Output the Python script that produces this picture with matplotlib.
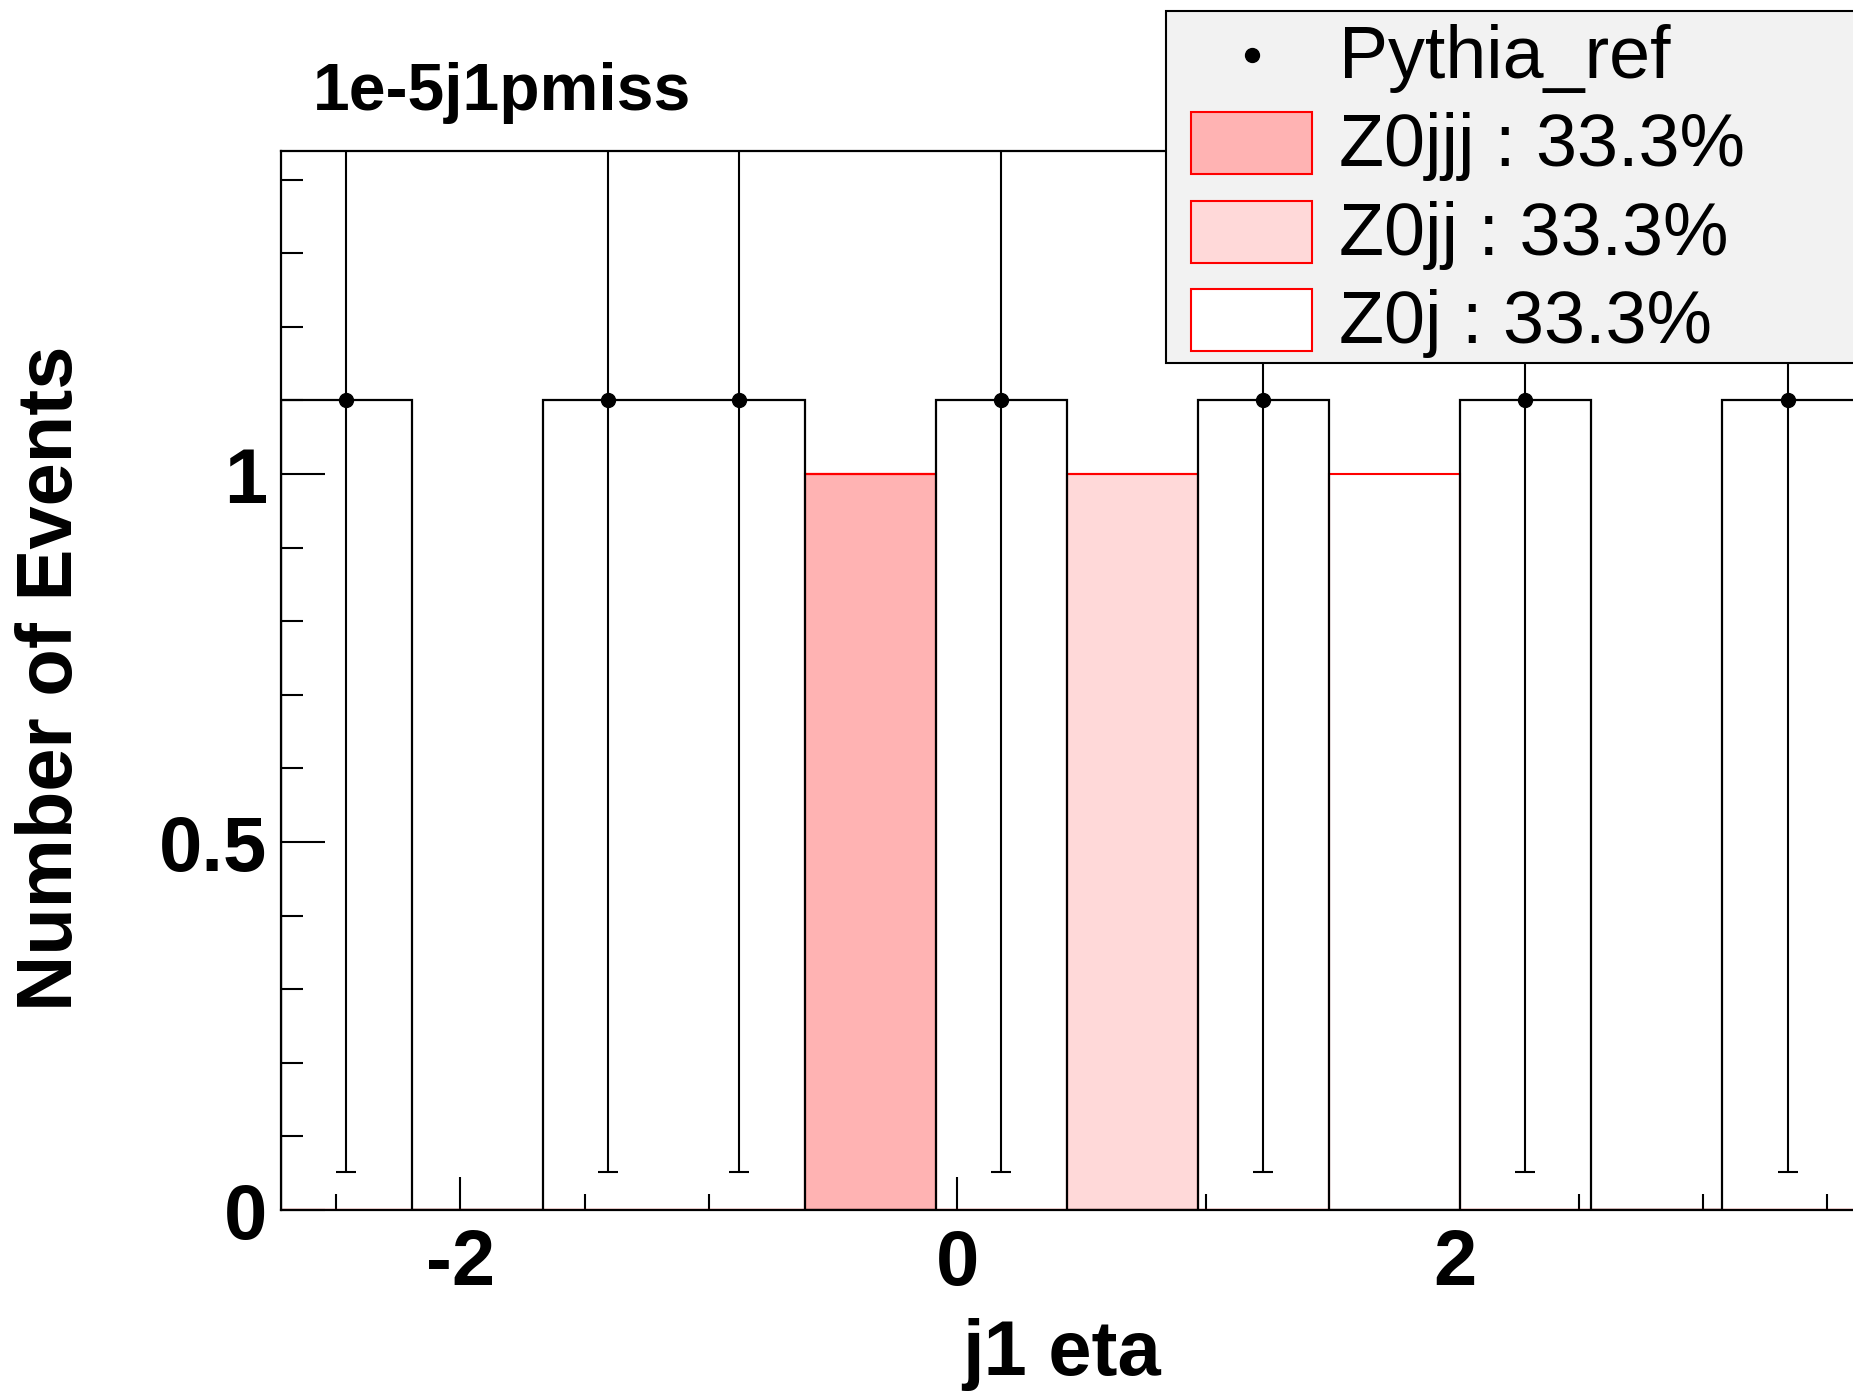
import numpy as np
import matplotlib
matplotlib.use("Agg")  # no display
import matplotlib.pyplot as plt
from matplotlib.patches import Rectangle
from matplotlib.lines import Line2D
from matplotlib.ticker import MultipleLocator, FuncFormatter

plt.rcParams["font.family"] = ["Liberation Sans", "DejaVu Sans"]
plt.rcParams["axes.unicode_minus"] = False

# bin edges of j1 eta
bin_edges = [-2.722, -2.195, -1.668, -1.141, -0.614, -0.087, 0.440,
             0.967, 1.494, 2.021, 2.548, 3.075, 3.610]

# reference sample (points) and its errors
pythia_ref = [1.1, 0, 1.1, 1.1, 0, 1.1, 0, 1.1, 0, 1.1, 0, 1.1]
pythia_err = [1.049, 0, 1.049, 1.049, 0, 1.049, 0, 1.049, 0, 1.049, 0, 1.049]

# stacked samples
z0jjj = [0, 0, 0, 0, 1, 0, 0, 0, 0, 0, 0, 0]
z0jj = [0, 0, 0, 0, 0, 0, 1, 0, 0, 0, 0, 0]
z0j = [0, 0, 0, 0, 0, 0, 0, 0, 1, 0, 0, 0]

sample_names = ["Z0jjj", "Z0jj", "Z0j"]
sample_fracs = [33.3, 33.3, 33.3]
sample_colors = ["#ffb3b3", "#ffd9d9", "#ffffff"]

W, H = 1853, 1392


def fx(px):
    return px / W


def fy(py):
    return 1 - py / H


fig = plt.figure(figsize=(W / 100, H / 100), dpi=100)

# axes run past the right edge of the canvas, like the original
x_lo, x_hi = -2.722, 3.95
px_per_unit = 248.5
ax_w = (x_hi - x_lo) * px_per_unit
ax = fig.add_axes([fx(281), fy(1210), ax_w / W, (1210 - 151) / H])

edges = np.array(bin_edges)
centers = 0.5 * (edges[:-1] + edges[1:])
widths = np.diff(edges)

bottom = np.zeros(len(centers))
for vals, col in zip([z0jjj, z0jj, z0j], sample_colors):
    vals = np.array(vals, dtype=float)
    ax.bar(centers, vals, width=widths, bottom=bottom, color=col,
           edgecolor="red", linewidth=1.5, zorder=2)
    bottom += vals

ref = np.array(pythia_ref, dtype=float)
err = np.array(pythia_err, dtype=float)
ax.stairs(ref, edges, baseline=0, color="black", linewidth=1.6, zorder=3)
m = ref > 0
ax.errorbar(centers[m], ref[m], yerr=err[m], fmt="o", color="black",
            ms=10, capsize=7, elinewidth=1.5, capthick=1.5, zorder=4)

ax.set_xlim(x_lo, x_hi)
ax.set_ylim(0, 1.439)

ax.xaxis.set_major_locator(MultipleLocator(2))
ax.xaxis.set_minor_locator(MultipleLocator(0.5))
ax.yaxis.set_major_locator(MultipleLocator(0.5))
ax.yaxis.set_minor_locator(MultipleLocator(0.1))
fmt = FuncFormatter(lambda v, p: "%g" % v)
ax.xaxis.set_major_formatter(fmt)
ax.yaxis.set_major_formatter(fmt)

ax.tick_params(which="both", direction="in", top=False, right=False,
               width=1.5, labelsize=56)
ax.tick_params(axis="y", which="major", length=32, pad=10)
ax.tick_params(axis="y", which="minor", length=16)
ax.tick_params(axis="x", which="major", length=24, pad=13)
ax.tick_params(axis="x", which="minor", length=11.5)
for lab in ax.get_xticklabels() + ax.get_yticklabels():
    lab.set_fontweight("bold")
for sp in ax.spines.values():
    sp.set_linewidth(1.6)

ax.set_xlabel("j1 eta", fontsize=56, fontweight="bold")
ax.xaxis.set_label_coords(fx(1062), fy(1375), transform=fig.transFigure)
ax.xaxis.label.set_va("baseline")

ax.set_ylabel("Number of Events", fontsize=56, fontweight="bold")
ax.yaxis.set_label_coords(fx(15), fy(678), transform=fig.transFigure)
ax.yaxis.label.set_rotation_mode("default")
ax.yaxis.label.set_ha("left")
ax.yaxis.label.set_va("center")

fig.text(fx(313), fy(110), "1e-5j1pmiss", fontsize=47.5, fontweight="bold",
         ha="left", va="baseline")

# legend box drawn by hand, it is cut by the canvas edge too
fig.add_artist(Rectangle((fx(1166), fy(363)), fx(2000 - 1166), (363 - 11) / H,
                         transform=fig.transFigure, facecolor="#f2f2f2",
                         edgecolor="black", linewidth=1.5))
row_base = [78, 166, 255, 343]
fig.add_artist(Line2D([fx(1252)], [fy(row_base[0] - 23)], marker="o", ms=10,
                      color="black", linestyle="none",
                      transform=fig.transFigure))
fig.text(fx(1339), fy(row_base[0]), "Pythia_ref", fontsize=53,
         ha="left", va="baseline")
for i, (name, frac, col) in enumerate(zip(sample_names, sample_fracs,
                                          sample_colors)):
    b = row_base[i + 1]
    fig.add_artist(Rectangle((fx(1191), fy(b + 8)), fx(1312 - 1191), 62 / H,
                             transform=fig.transFigure, facecolor=col,
                             edgecolor="red", linewidth=1.5))
    fig.text(fx(1339), fy(b), f"{name} : {frac:.1f}%", fontsize=53,
             ha="left", va="baseline")

fig.savefig("out.png", dpi=100)
